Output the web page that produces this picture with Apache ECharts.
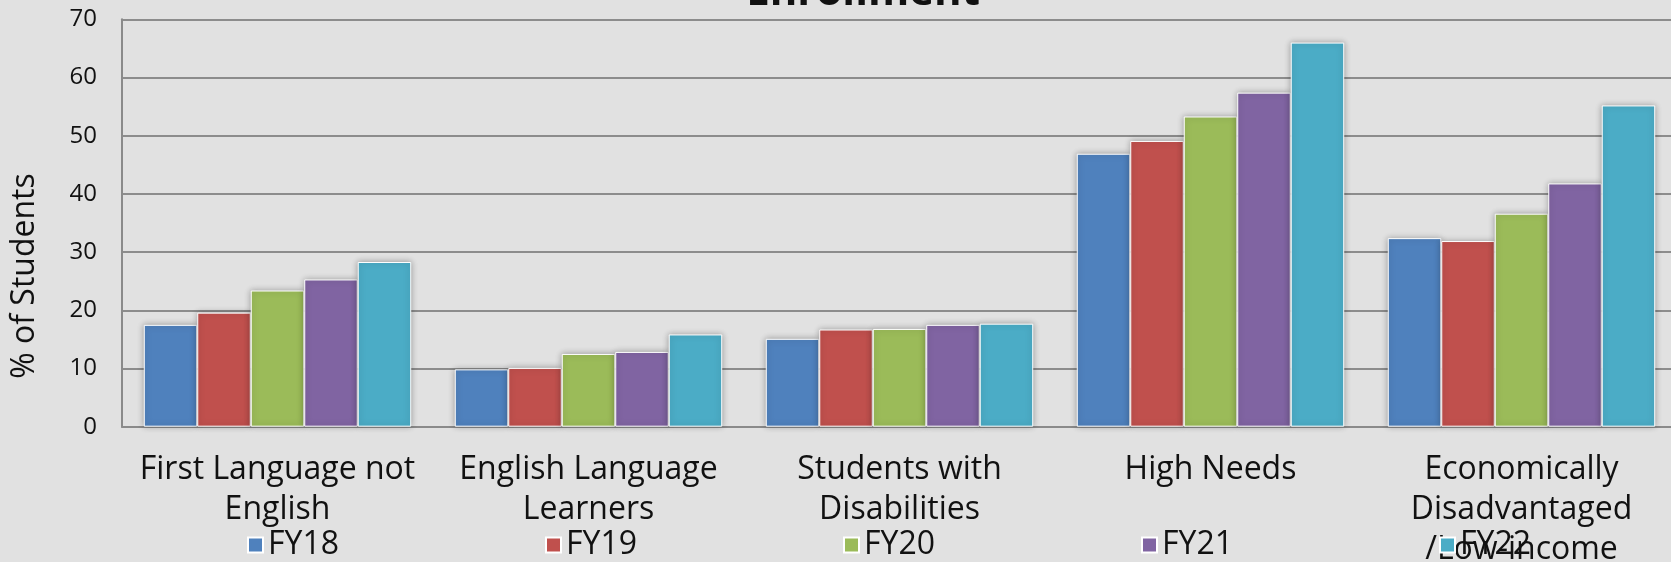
<!DOCTYPE html>
<html>
<head>
<meta charset="utf-8">
<script src="https://cdn.jsdelivr.net/npm/echarts@6/dist/echarts.min.js"></script>
<style>
html,body{margin:0;padding:0;background:#e1e1e1;}
#c{width:1671px;height:562px;}
</style>
</head>
<body>
<div id="c"></div>
<script>
const categories = [
  "First Language not\nEnglish",
  "English Language\nLearners",
  "Students with\nDisabilities",
  "High Needs",
  "Economically\nDisadvantaged\n/Low-income"
];
const seriesNames = ["FY18", "FY19", "FY20", "FY21", "FY22"];
const fy18 = [17.5, 9.85, 15.1, 46.9, 32.4];
const fy19 = [19.6, 10.1, 16.7, 49.1, 31.9];
const fy20 = [23.4, 12.5, 16.8, 53.3, 36.6];
const fy21 = [25.3, 12.85, 17.5, 57.4, 41.8];
const fy22 = [28.3, 15.85, 17.7, 66.0, 55.2];
const yTicks = [0, 10, 20, 30, 40, 50, 60, 70];
const titleText = "Enrollment";
const yName = "% of Students";

const colors = ["#4F81BD", "#C0504D", "#9BBB59", "#8064A2", "#4BACC6"];
const values = [fy18, fy19, fy20, fy21, fy22];
const legendLefts = [242, 540, 838, 1136, 1434];
const FONT = "Open Sans";

const chart = echarts.init(document.getElementById('c'), null, {renderer: 'canvas'});
const option = {
  backgroundColor: '#e1e1e1',
  animation: false,
  color: colors,
  title: {
    text: titleText,
    left: 858,
    textAlign: 'center',
    top: -33,
    textStyle: {fontFamily: FONT, fontWeight: 'bold', fontSize: 42, lineHeight: 42, color: '#111'}
  },
  legend: seriesNames.map((n, i) => ({
    data: [n],
    left: legendLefts[i],
    top: 520,
    icon: 'rect',
    itemWidth: 15,
    itemHeight: 15,
    textStyle: {fontFamily: FONT, fontSize: 32, lineHeight: 40, color: '#111'}
  })),
  grid: {left: 122, top: 19.3, width: 1555, height: 407.4, containLabel: false, outerBoundsMode: 'none'},
  xAxis: {
    type: 'category',
    data: categories,
    axisLine: {show: true, lineStyle: {color: '#8a8a8a', width: 2}},
    axisTick: {show: false},
    axisLabel: {interval: 0, margin: 23, fontFamily: FONT, fontSize: 32, lineHeight: 40, color: '#111'}
  },
  yAxis: {
    type: 'value',
    min: yTicks[0],
    max: yTicks[yTicks.length - 1],
    interval: 10,
    axisLine: {show: true, lineStyle: {color: '#8a8a8a', width: 2}},
    axisTick: {show: false},
    splitLine: {show: true, lineStyle: {color: '#8c8c8c', width: 2}},
    axisLabel: {margin: 25, fontFamily: FONT, fontSize: 24, color: '#111'}
  },
  graphic: [{
    type: 'text',
    x: 25,
    y: 276,
    rotation: Math.PI / 2,
    style: {text: yName, fontFamily: FONT, fontSize: 32, fill: '#111', textAlign: 'center', textVerticalAlign: 'middle'}
  }],
  series: seriesNames.map((n, i) => ({
    name: n,
    type: 'bar',
    data: values[i],
    barGap: '0%',
    barCategoryGap: '14%',
    itemStyle: {
      color: colors[i],
      borderColor: '#ffffff',
      borderWidth: 1,
      shadowBlur: 6,
      shadowColor: 'rgba(0,0,0,0.3)'
    }
  }))
};
chart.setOption(option);
</script>
</body>
</html>
